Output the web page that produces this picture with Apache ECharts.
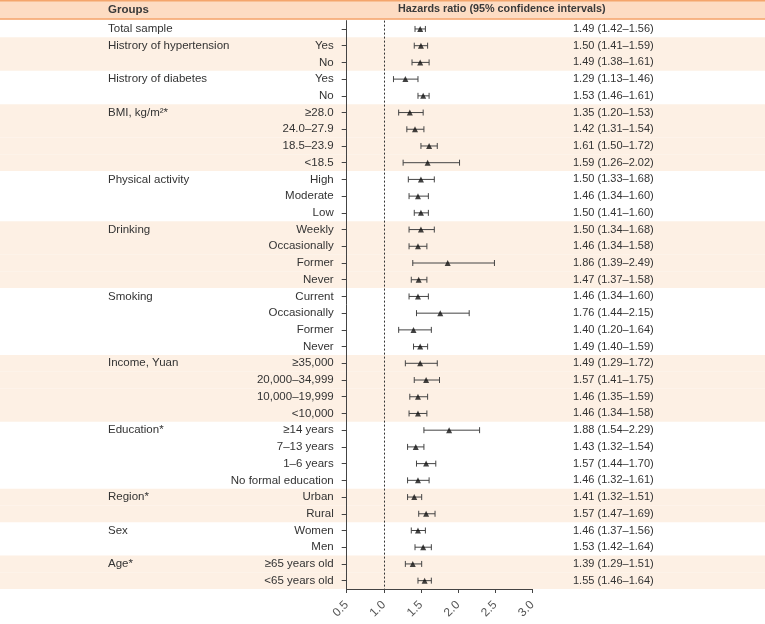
<!DOCTYPE html>
<html>
<head>
<meta charset="utf-8">
<script src="https://cdn.jsdelivr.net/npm/echarts@6/dist/echarts.min.js"></script>
<style>
html,body{margin:0;padding:0;background:#fff;}
#chart{width:765px;height:624px;}
</style>
</head>
<body>
<div id="chart"></div>
<script>
const groupNames = ['Total sample','Histrory of hypertension','Histrory of diabetes','BMI, kg/m²*','Physical activity','Drinking','Smoking','Income, Yuan','Education*','Region*','Sex','Age*'];
const groupSizes = [1,2,2,4,3,4,4,4,4,2,2,2];
const subLabels = ['', 'Yes','No', 'Yes','No', '≥28.0','24.0–27.9','18.5–23.9','<18.5', 'High','Moderate','Low',
  'Weekly','Occasionally','Former','Never', 'Current','Occasionally','Former','Never',
  '≥35,000','20,000–34,999','10,000–19,999','<10,000', '≥14 years','7–13 years','1–6 years','No formal education',
  'Urban','Rural', 'Women','Men', '≥65 years old','<65 years old'];
const hr    = [1.49, 1.50,1.49, 1.29,1.53, 1.35,1.42,1.61,1.59, 1.50,1.46,1.50, 1.50,1.46,1.86,1.47, 1.46,1.76,1.40,1.49, 1.49,1.57,1.46,1.46, 1.88,1.43,1.57,1.46, 1.41,1.57, 1.46,1.53, 1.39,1.55];
const lower = [1.42, 1.41,1.38, 1.13,1.46, 1.20,1.31,1.50,1.26, 1.33,1.34,1.41, 1.34,1.34,1.39,1.37, 1.34,1.44,1.20,1.40, 1.29,1.41,1.35,1.34, 1.54,1.32,1.44,1.32, 1.32,1.47, 1.37,1.42, 1.29,1.46];
const upper = [1.56, 1.59,1.61, 1.46,1.61, 1.53,1.54,1.72,2.02, 1.68,1.60,1.60, 1.68,1.58,2.49,1.58, 1.60,2.15,1.64,1.59, 1.72,1.75,1.59,1.58, 2.29,1.54,1.70,1.61, 1.51,1.69, 1.56,1.64, 1.51,1.64];
const xTicks = [0.5, 1.0, 1.5, 2.0, 2.5, 3.0];
const headerGroups = 'Groups';
const headerHR = 'Hazards ratio (95% confidence intervals)';

const FONT = '"Liberation Sans", Arial, sans-serif';
const rowGroup = [], rowFirst = [];
groupSizes.forEach((n, g) => { for (let k = 0; k < n; k++) { rowGroup.push(g); rowFirst.push(k === 0); } });
const rows = subLabels.map((_, i) => i);
const fmt = v => v.toFixed(2);

const chart = echarts.init(document.getElementById('chart'), null, {renderer: 'canvas'});
const option = {
  animation: false,
  backgroundColor: '#fff',
  textStyle: {fontFamily: FONT},
  grid: {left: 346.7, right: 232.7, top: 20.6, bottom: 35},
  graphic: [
    {type: 'rect', left: 0, top: 0, z: -5, shape: {width: 765, height: 19.5}, style: {fill: '#fddcc3'}},
    {type: 'rect', left: 0, top: 0, z: -4, shape: {width: 765, height: 1.6}, style: {fill: '#f4a56c'}},
    {type: 'rect', left: 0, top: 18.2, z: -4, shape: {width: 765, height: 1.6}, style: {fill: '#f4a56c'}},
    {type: 'text', left: 108, top: 3.5, style: {text: headerGroups, fontFamily: FONT, fontSize: 11.5, fontWeight: 'bold', fill: '#3a3a3a'}},
    {type: 'text', left: 398, top: 3.5, style: {text: headerHR, fontFamily: FONT, fontSize: 10.8, fontWeight: 'bold', fill: '#3a3a3a'}}
  ],
  xAxis: {
    type: 'value', min: xTicks[0], max: xTicks[xTicks.length - 1], interval: 0.5,
    axisLine: {show: true, lineStyle: {color: '#444', width: 1}},
    axisTick: {show: true, length: 4, lineStyle: {color: '#444'}},
    axisLabel: {rotate: 45, fontSize: 12, color: '#555', margin: 14, fontFamily: FONT, formatter: v => v.toFixed(1)},
    splitLine: {show: false}
  },
  yAxis: {
    type: 'category', inverse: true, data: rows.map(String),
    boundaryGap: true,
    axisLine: {show: true, lineStyle: {color: '#444', width: 1}},
    axisTick: {show: true, alignWithLabel: true, length: 5, lineStyle: {color: '#444'}},
    axisLabel: {margin: 13, fontSize: 11.5, color: '#333', fontFamily: FONT, interval: 0, formatter: (v, i) => subLabels[+v]},
    splitLine: {show: false}
  },
  series: [
    {
      type: 'custom', name: 'bands', z: -1, silent: true, clip: false,
      data: rows.map(i => [1, i]),
      encode: {x: 0, y: 1},
      renderItem: (params, api) => {
        const i = api.value(1);
        const y = api.coord([1, i])[1];
        const h = api.size([0, 1])[1];
        const g = rowGroup[i];
        const children = [];
        if (g % 2 === 1) {
          children.push({type: 'rect', shape: {x: 0, y: y - h / 2, width: api.getWidth(), height: h}, style: {fill: '#fdf0e4'}});
        }
        if (rowFirst[i]) {
          children.push({type: 'text', style: {text: groupNames[g], x: 108, y: y, fontFamily: FONT, fontSize: 11.5, fill: '#333', align: 'left', verticalAlign: 'middle'}});
        }
        children.push({type: 'text', style: {text: fmt(hr[i]) + ' (' + fmt(lower[i]) + '–' + fmt(upper[i]) + ')', x: 573, y: y, fontFamily: FONT, fontSize: 11, fill: '#333', align: 'left', verticalAlign: 'middle'}});
        return {type: 'group', children};
      }
    },
    {
      type: 'custom', name: 'ci', z: 3, silent: true, clip: false,
      data: rows.map(i => [lower[i], upper[i], i]),
      encode: {x: [0, 1], y: 2},
      renderItem: (params, api) => {
        const i = api.value(2);
        const p1 = api.coord([api.value(0), i]);
        const p2 = api.coord([api.value(1), i]);
        const c = 3;
        const ls = {stroke: '#444', lineWidth: 1};
        return {type: 'group', children: [
          {type: 'line', shape: {x1: p1[0], y1: p1[1], x2: p2[0], y2: p2[1]}, style: ls},
          {type: 'line', shape: {x1: p1[0], y1: p1[1] - c, x2: p1[0], y2: p1[1] + c}, style: ls},
          {type: 'line', shape: {x1: p2[0], y1: p2[1] - c, x2: p2[0], y2: p2[1] + c}, style: ls}
        ]};
      }
    },
    {
      type: 'scatter', name: 'HR', z: 4,
      symbol: 'triangle', symbolSize: [6, 6],
      itemStyle: {color: '#111'},
      data: rows.map(i => [hr[i], i]),
      markLine: {
        silent: true, symbol: 'none', label: {show: false},
        lineStyle: {type: [2, 2], color: '#333', width: 1},
        data: [{xAxis: 1.0}]
      }
    }
  ]
};
chart.setOption(option);
</script>
</body>
</html>
